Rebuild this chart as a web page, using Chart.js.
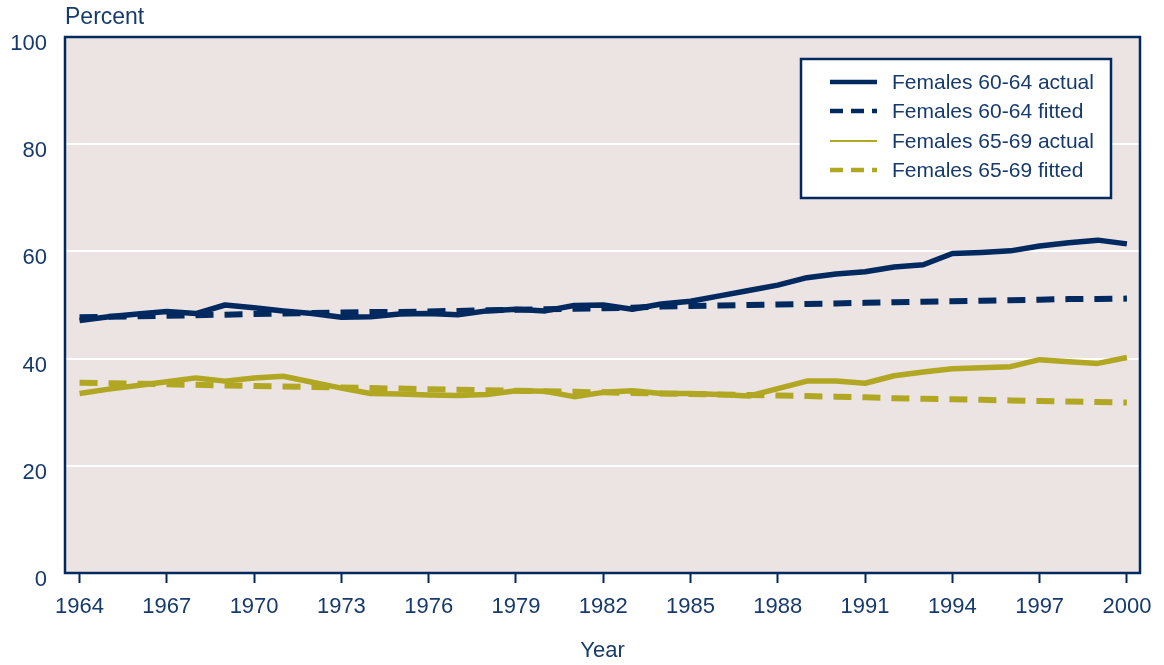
<!DOCTYPE html>
<html>
<head>
<meta charset="utf-8">
<title>Labor force participation, females 60-64 and 65-69</title>
<script src="https://cdn.jsdelivr.net/npm/chart.js@4.4.1/dist/chart.umd.min.js"></script>
<style>
    html, body { margin: 0; padding: 0; background: #ffffff; }
    #wrap { width: 1164px; height: 665px; }
</style>
</head>
<body>
<div id="wrap"><canvas id="participationChart" width="1164" height="665"></canvas></div>
<script>
const years = [1964, 1965, 1966, 1967, 1968, 1969, 1970, 1971, 1972, 1973, 1974, 1975, 1976,
    1977, 1978, 1979, 1980, 1981, 1982, 1983, 1984, 1985, 1986, 1987, 1988, 1989, 1990,
    1991, 1992, 1993, 1994, 1995, 1996, 1997, 1998, 1999, 2000];

const females6064Actual = [47.1, 47.8, 48.3, 48.8, 48.4, 50.0, 49.5, 48.9, 48.4, 47.7, 47.8, 48.3, 48.4,
    48.2, 48.9, 49.2, 48.9, 49.9, 50.0, 49.2, 50.2, 50.7, 51.7, 52.7, 53.7, 55.1, 55.8,
    56.2, 57.1, 57.5, 59.6, 59.8, 60.1, 61.0, 61.6, 62.1, 61.4];

const females6064Fitted = [47.7, 47.8, 47.9, 48.0, 48.1, 48.2, 48.3, 48.4, 48.5, 48.6, 48.7, 48.7, 48.8,
    48.9, 49.0, 49.1, 49.2, 49.3, 49.4, 49.5, 49.7, 49.8, 49.9, 50.0, 50.1, 50.2, 50.3,
    50.4, 50.5, 50.6, 50.7, 50.8, 50.9, 51.0, 51.1, 51.1, 51.2];

const females6569Actual = [33.5, 34.3, 35.0, 35.7, 36.4, 35.8, 36.4, 36.7, 35.6, 34.5, 33.5, 33.4, 33.2,
    33.1, 33.3, 34.0, 33.9, 32.9, 33.7, 34.0, 33.5, 33.5, 33.3, 33.0, 34.4, 35.8, 35.8,
    35.4, 36.8, 37.5, 38.1, 38.3, 38.5, 39.8, 39.4, 39.1, 40.2];

const females6569Fitted = [35.5, 35.4, 35.3, 35.2, 35.1, 35.0, 34.9, 34.8, 34.7, 34.6, 34.5, 34.4, 34.3,
    34.2, 34.1, 34.0, 33.9, 33.8, 33.7, 33.6, 33.5, 33.4, 33.3, 33.2, 33.1, 33.0, 32.9,
    32.8, 32.6, 32.5, 32.4, 32.3, 32.2, 32.1, 32.0, 31.9, 31.8];

const xTickYears = [1964, 1967, 1970, 1973, 1976, 1979, 1982, 1985, 1988, 1991, 1994, 1997, 2000];
const yTickValues = [0, 20, 40, 60, 80, 100];

const navy = "#00295f";
const olive = "#b1a722";
const textColor = "#163a6c";
const plotFill = "#ebe4e2";
const fontFamily = "'Liberation Sans', Arial, Helvetica, sans-serif";

const toPoints = (values) => values.map((value, index) => ({ x: years[index], y: value }));

// legend look differs a bit from the plotted lines (thin olive, shorter dashes)
const legendStyles = [
    { width: 4.5, dash: [] },
    { width: 4.5, dash: [13, 8] },
    { width: 1.8, dash: [] },
    { width: 4.5, dash: [13, 8] }
];

const plotBackground = {
    id: "plotBackground",
    beforeDraw(chart) {
        const { ctx, chartArea } = chart;
        ctx.save();
        ctx.fillStyle = plotFill;
        ctx.fillRect(chartArea.left, chartArea.top, chartArea.right - chartArea.left, chartArea.bottom - chartArea.top);
        ctx.restore();
    }
};

const plotFrame = {
    id: "plotFrame",
    afterDatasetsDraw(chart) {
        const { ctx, chartArea } = chart;
        ctx.save();
        ctx.strokeStyle = navy;
        ctx.lineWidth = 2.5;
        ctx.strokeRect(chartArea.left, chartArea.top, chartArea.right - chartArea.left, chartArea.bottom - chartArea.top);

        ctx.fillStyle = textColor;
        ctx.font = `23px ${fontFamily}`;
        ctx.textAlign = "left";
        ctx.textBaseline = "middle";
        ctx.fillText("Percent", chartArea.left, 18);
        ctx.restore();
    }
};

const boxLegend = {
    id: "boxLegend",
    afterDraw(chart) {
        const { ctx } = chart;
        const box = { x: 801, y: 59, w: 310, h: 139 };
        const rows = [82, 111, 141, 170];

        ctx.save();
        ctx.fillStyle = "#ffffff";
        ctx.fillRect(box.x, box.y, box.w, box.h);
        ctx.strokeStyle = navy;
        ctx.lineWidth = 2.5;
        ctx.strokeRect(box.x, box.y, box.w, box.h);

        chart.data.datasets.forEach((dataset, index) => {
            const rowY = rows[index];
            const style = legendStyles[index];
            ctx.beginPath();
            ctx.strokeStyle = dataset.borderColor;
            ctx.lineWidth = style.width;
            ctx.setLineDash(style.dash);
            ctx.moveTo(830, rowY);
            ctx.lineTo(877, rowY);
            ctx.stroke();
            ctx.setLineDash([]);

            ctx.fillStyle = textColor;
            ctx.font = `21px ${fontFamily}`;
            ctx.textAlign = "left";
            ctx.textBaseline = "middle";
            ctx.fillText(dataset.label, 892, rowY + 1);
        });
        ctx.restore();
    }
};

new Chart(document.getElementById("participationChart").getContext("2d"), {
    type: "line",
    data: {
        datasets: [{
            label: "Females 60-64 actual",
            data: toPoints(females6064Actual),
            borderColor: navy,
            borderWidth: 5.5
        }, {
            label: "Females 60-64 fitted",
            data: toPoints(females6064Fitted),
            borderColor: navy,
            borderWidth: 6,
            borderDash: [18, 11]
        }, {
            label: "Females 65-69 actual",
            data: toPoints(females6569Actual),
            borderColor: olive,
            borderWidth: 5.5
        }, {
            label: "Females 65-69 fitted",
            data: toPoints(females6569Fitted),
            borderColor: olive,
            borderWidth: 6,
            borderDash: [18, 11]
        }]
    },
    options: {
        responsive: false,
        animation: false,
        devicePixelRatio: 1,
        layout: {
            padding: { top: 37, right: 24, left: 0, bottom: 0 }
        },
        elements: {
            point: { radius: 0, hoverRadius: 0 },
            line: { tension: 0, borderCapStyle: "butt", borderJoinStyle: "round", fill: false }
        },
        plugins: {
            legend: { display: false },
            tooltip: { enabled: false }
        },
        scales: {
            x: {
                type: "linear",
                min: 1963.5,
                max: 2000.45,
                afterBuildTicks(scale) {
                    scale.ticks = xTickYears.map((value) => ({ value }));
                },
                afterFit(scale) {
                    scale.height = 92;
                },
                border: { display: false },
                grid: {
                    drawOnChartArea: false,
                    drawTicks: true,
                    tickLength: 10,
                    tickColor: navy,
                    tickWidth: 2
                },
                ticks: {
                    color: textColor,
                    font: { family: fontFamily, size: 22 },
                    padding: 11,
                    maxRotation: 0,
                    autoSkip: false,
                    callback(value) {
                        return String(value);
                    }
                },
                title: {
                    display: true,
                    text: "Year",
                    color: textColor,
                    font: { family: fontFamily, size: 22 },
                    padding: { top: 0, bottom: 1 }
                }
            },
            y: {
                min: 0,
                max: 100,
                afterBuildTicks(scale) {
                    scale.ticks = yTickValues.map((value) => ({ value }));
                },
                afterFit(scale) {
                    scale.width = 65;
                },
                border: { display: false },
                grid: {
                    color: "#ffffff",
                    lineWidth: 2,
                    drawTicks: false
                },
                ticks: {
                    color: textColor,
                    font: { family: fontFamily, size: 22 },
                    padding: 18,
                    labelOffset: 7
                }
            }
        }
    },
    plugins: [plotBackground, plotFrame, boxLegend]
});
</script>
</body>
</html>
